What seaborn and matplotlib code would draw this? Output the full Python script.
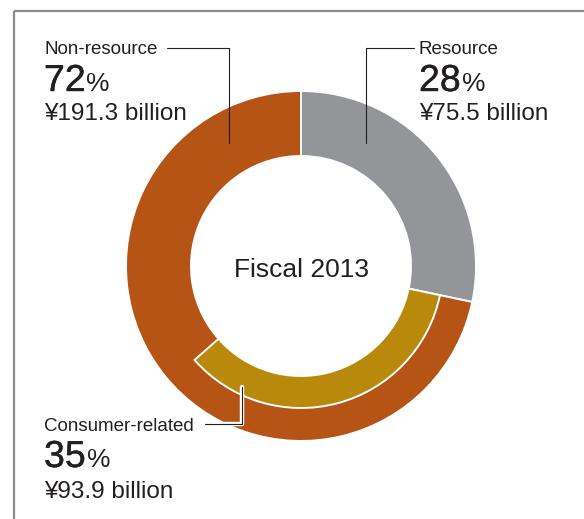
import matplotlib
matplotlib.use("Agg")
import matplotlib.pyplot as plt
import matplotlib.patheffects as pe
import seaborn as sns

sns.set_theme(style="white")
plt.rcParams["font.family"] = ["Liberation Sans", "DejaVu Sans"]

# Fiscal 2013 segments (billions of yen)
segments = ["Resource", "Non-resource"]
amounts = [75.5, 191.3]
percents = ["28", "72"]
sub_segment = "Consumer-related"
sub_amount = 93.9
sub_percent = "35"
center_label = "Fiscal 2013"

GRAY = "#939598"
RUST = "#b55414"
GOLD = "#b8890b"
INK = "#231f20"

W, H = 584, 519
fig = plt.figure(figsize=(W / 100, H / 100), dpi=100)
ax = fig.add_axes([0, 0, 1, 1])

def Y(y):
    # pixel row (from top) to axis coordinate
    return H - y

cx, cy = 301, Y(266)
r_out, r_in = 175, 110
r_sub = 142

# outer ring: resource vs non-resource
ax.pie(amounts, colors=[GRAY, RUST], startangle=90, counterclock=False,
       radius=r_out, center=(cx, cy),
       wedgeprops=dict(width=r_out - r_in, edgecolor="white", linewidth=1.4))

# inner band: consumer-related share of non-resource
total = sum(amounts)
inner_vals = [amounts[0], sub_amount, total - amounts[0] - sub_amount]
wedges, _ = ax.pie(inner_vals, colors=["none", GOLD, "none"], startangle=90,
                   counterclock=False, radius=r_sub, center=(cx, cy),
                   wedgeprops=dict(width=r_sub - r_in, edgecolor="white", linewidth=1.4))
wedges[0].set_visible(False)
wedges[2].set_visible(False)

ax.set_xlim(0, W)
ax.set_ylim(0, H)
ax.set_aspect("equal")
ax.axis("off")

# frame
ax.plot([14, W], [Y(11), Y(11)], color="#8c8c8c", lw=1.6, solid_capstyle="butt")
ax.plot([14, 14], [Y(11), 0], color="#8c8c8c", lw=1.6, solid_capstyle="butt")

ax.text(cx, Y(270), center_label, ha="center", va="center", fontsize=19, color=INK)

heavy = [pe.withStroke(linewidth=0.3, foreground=INK)]

def label_block(x, y_name, y_pct, y_amt, name, pct, amt):
    ax.text(x, Y(y_name), name, fontsize=13.5, color=INK, va="baseline", ha="left")
    t = ax.text(x, Y(y_pct), pct, fontsize=27, color=INK, va="baseline", ha="left",
                path_effects=heavy)
    ax.annotate("%", xy=(1, Y(y_pct)), xycoords=(t, "data"), xytext=(0.6, 0),
                textcoords="offset points", fontsize=19, color=INK,
                va="baseline", ha="left")
    ax.text(x, Y(y_amt), f"¥{amt} billion", fontsize=17.5, color=INK,
            va="baseline", ha="left")

label_block(44, 53.5, 91, 120, segments[1], percents[1], amounts[1])
label_block(419, 53.5, 91, 120, segments[0], percents[0], amounts[0])
label_block(44, 431, 467, 498, sub_segment, sub_percent, sub_amount)

# leader lines
ax.plot([167, 229, 229], [Y(48), Y(48), Y(143)], color=INK, lw=0.8)
ax.plot([414, 366, 366], [Y(48), Y(48), Y(143)], color=INK, lw=0.8)
ax.plot([205, 242, 242], [Y(424), Y(424), Y(387)], color=INK, lw=0.8,
        path_effects=[pe.Stroke(linewidth=3.2, foreground="white"), pe.Normal()])

fig.savefig("out.png", dpi=100, facecolor="white")
